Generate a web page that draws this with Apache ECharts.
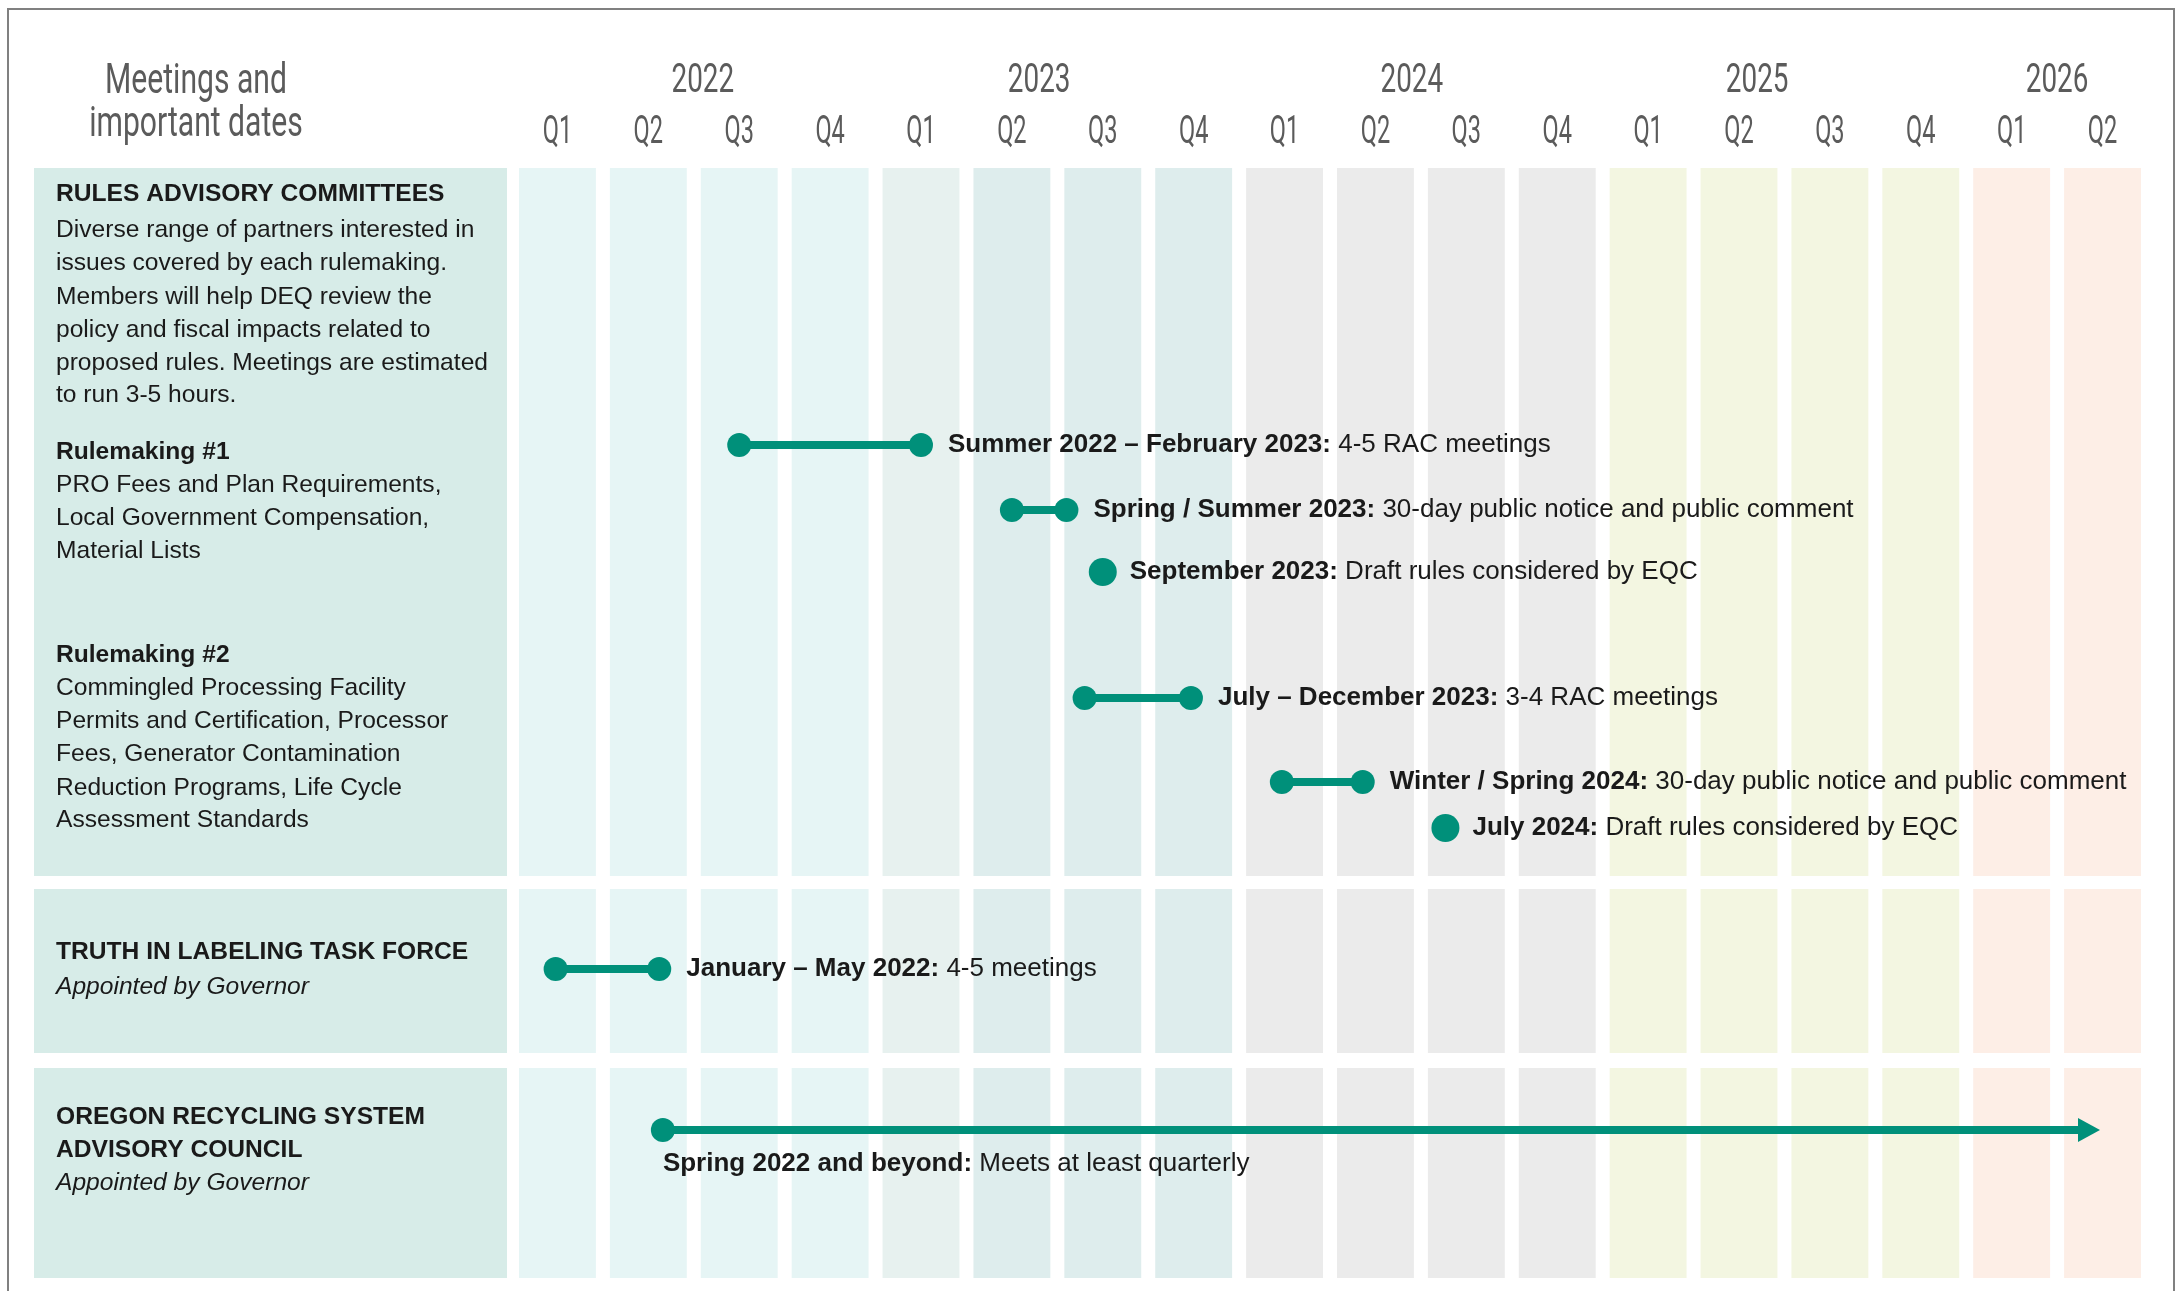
<!DOCTYPE html>
<html lang="en">
<head>
<meta charset="UTF-8">
<title>Meetings and important dates</title>
<style>
  html, body { margin: 0; padding: 0; background: #fff; }
  #main { width: 2177px; height: 1291px; }
</style>
<script src="https://cdn.jsdelivr.net/npm/echarts@6/dist/echarts.min.js"></script>
</head>
<body>
<div id="main"></div>
<script>
// time axis: quarters from 2022 Q1 to 2026 Q2
var quarters = ['Q1', 'Q2', 'Q3', 'Q4', 'Q1', 'Q2', 'Q3', 'Q4', 'Q1', 'Q2', 'Q3', 'Q4',
                'Q1', 'Q2', 'Q3', 'Q4', 'Q1', 'Q2'];
var yearTicks = [2.1, 5.8, 9.9, 13.7, 17];
var yearNames = ['2022', '2023', '2024', '2025', '2026'];

// the three groups (rows), in layout units down the chart
var rowTop = [0, 721, 900];
var rowBottom = [708, 885, 1110];

// events, x in quarters counted from Jan 2022
var eventStart = [2.5, 5.5, 6.5, 6.3, 8.47, 10.27, 0.48, 1.66];
var eventEnd = [4.5, 6.1, 6.5, 7.47, 9.36, 10.27, 1.62, 17.45];
var eventRow = [277, 342, 404, 530, 614, 660, 801, 962];
var eventOngoing = [false, false, false, false, false, false, false, true];
var eventTitle = [
  'Summer 2022 – February 2023:',
  'Spring / Summer 2023:',
  'September 2023:',
  'July – December 2023:',
  'Winter / Spring 2024:',
  'July 2024:',
  'January – May 2022:',
  'Spring 2022 and beyond:'
];
var eventNote = [
  '4-5 RAC meetings',
  '30-day public notice and public comment',
  'Draft rules considered by EQC',
  '3-4 RAC meetings',
  '30-day public notice and public comment',
  'Draft rules considered by EQC',
  '4-5 meetings',
  'Meets at least quarterly'
];

// left hand descriptions
var panelRow = [26, 62, 95, 129, 162, 195, 227, 284, 317, 350, 383,
                487, 520, 553, 586, 620, 652, 784, 819, 949, 982, 1015];
var panelKind = ['h', 'n', 'n', 'n', 'n', 'n', 'n', 'h', 'n', 'n', 'n',
                 'h', 'n', 'n', 'n', 'n', 'n', 'h', 'i', 'h', 'h', 'i'];
var panelText = [
  'RULES ADVISORY COMMITTEES',
  'Diverse range of partners interested in',
  'issues covered by each rulemaking.',
  'Members will help DEQ review the',
  'policy and fiscal impacts related to',
  'proposed rules. Meetings are estimated',
  'to run 3-5 hours.',
  'Rulemaking #1',
  'PRO Fees and Plan Requirements,',
  'Local Government Compensation,',
  'Material Lists',
  'Rulemaking #2',
  'Commingled Processing Facility',
  'Permits and Certification, Processor',
  'Fees, Generator Contamination',
  'Reduction Programs, Life Cycle',
  'Assessment Standards',
  'TRUTH IN LABELING TASK FORCE',
  'Appointed by Governor',
  'OREGON RECYCLING SYSTEM',
  'ADVISORY COUNCIL',
  'Appointed by Governor'
];

var headFont = "Roboto, 'Noto Sans', sans-serif";
var bodyFont = "'Liberation Sans', Arial, sans-serif";
var grey = '#5b5b5b';
var teal = '#00907a';
var ink = '#1a1a1a';
var quarterFill = ['#e6f5f5', '#e6f5f5', '#e6f5f5', '#e6f5f5',
                   '#e7f1ef', '#deeded', '#deeded', '#deeded',
                   '#ebebeb', '#ebebeb', '#ebebeb', '#ebebeb',
                   '#f3f6e1', '#f3f6e1', '#f3f6e1', '#f3f6e1',
                   '#fdeee6', '#fdeee6'];

var columnData = [];
for (var q = 0; q < quarters.length; q++) {
  for (var r = 0; r < rowTop.length; r++) {
    columnData.push([q, rowTop[r], rowBottom[r]]);
  }
}
var quarterData = quarters.map(function (s, i) { return [i + 0.5, 0]; });
var yearData = yearTicks.map(function (v) { return [v, 0]; });
var panelData = rowTop.map(function (t, i) { return [0, 1, t, rowBottom[i]]; });
var panelTextData = panelRow.map(function (y) { return [0, y]; });
var eventData = eventStart.map(function (s, i) { return [s, eventEnd[i], eventRow[i]]; });

// condensed header lettering: squeeze a regular face horizontally
function headerLabel(names, lift, size, squeeze) {
  return function (params, api) {
    var p = api.coord([api.value(0), api.value(1)]);
    return {
      type: 'text',
      x: p[0],
      y: p[1] - lift,
      scaleX: squeeze,
      style: {
        text: names[params.dataIndex],
        font: size + 'px ' + headFont,
        fill: grey,
        textAlign: 'center',
        textVerticalAlign: 'middle'
      }
    };
  };
}

var chart = echarts.init(document.getElementById('main'));

var option = {
  animation: false,
  backgroundColor: '#ffffff',
  graphic: [
    {
      type: 'rect',
      shape: { x: 8, y: 9, width: 2166, height: 1400 },
      style: { fill: 'none', stroke: '#808080', lineWidth: 2 },
      silent: true
    },
    {
      type: 'text',
      x: 196,
      y: 104,
      scaleX: 0.7,
      style: {
        text: 'Meetings and\nimportant dates',
        textAlign: 'center',
        textVerticalAlign: 'middle',
        font: '43px ' + headFont,
        lineHeight: 43,
        fill: grey
      }
    }
  ],
  grid: [
    { left: 512, right: 29, top: 168, bottom: 13 },
    { left: 34, width: 473, top: 168, bottom: 13 }
  ],
  xAxis: [
    { type: 'value', gridIndex: 0, min: 0, max: 18, show: false },
    { type: 'value', gridIndex: 1, min: 0, max: 1, show: false }
  ],
  yAxis: [
    { type: 'value', gridIndex: 0, inverse: true, min: 0, max: 1110, show: false },
    { type: 'value', gridIndex: 1, inverse: true, min: 0, max: 1110, show: false }
  ],
  series: [
    {
      // quarter columns
      type: 'custom',
      xAxisIndex: 0,
      yAxisIndex: 0,
      silent: true,
      data: columnData,
      encode: { x: 0, y: [1, 2] },
      renderItem: function (params, api) {
        var q = api.value(0);
        var p0 = api.coord([q + 0.077, api.value(1)]);
        var p1 = api.coord([q + 0.923, api.value(2)]);
        return {
          type: 'rect',
          shape: { x: p0[0], y: p0[1], width: p1[0] - p0[0], height: p1[1] - p0[1] },
          style: { fill: quarterFill[q] }
        };
      }
    },
    {
      // quarter tick labels
      type: 'custom',
      xAxisIndex: 0,
      yAxisIndex: 0,
      silent: true,
      data: quarterData,
      encode: { x: 0, y: 1 },
      renderItem: headerLabel(quarters, 35, 38, 0.62)
    },
    {
      // year labels
      type: 'custom',
      xAxisIndex: 0,
      yAxisIndex: 0,
      silent: true,
      data: yearData,
      encode: { x: 0, y: 1 },
      renderItem: headerLabel(yearNames, 86, 41, 0.68)
    },
    {
      // left panel boxes
      type: 'custom',
      xAxisIndex: 1,
      yAxisIndex: 1,
      silent: true,
      data: panelData,
      encode: { x: [0, 1], y: [2, 3] },
      renderItem: function (params, api) {
        var p0 = api.coord([api.value(0), api.value(2)]);
        var p1 = api.coord([api.value(1), api.value(3)]);
        return {
          type: 'rect',
          shape: { x: p0[0], y: p0[1], width: p1[0] - p0[0], height: p1[1] - p0[1] },
          style: { fill: '#d7ece8' }
        };
      }
    },
    {
      // left panel text
      type: 'custom',
      xAxisIndex: 1,
      yAxisIndex: 1,
      silent: true,
      data: panelTextData,
      encode: { x: 0, y: 1 },
      renderItem: function (params, api) {
        var i = params.dataIndex;
        var p = api.coord([api.value(0), api.value(1)]);
        var kind = panelKind[i];
        var font = (kind === 'h' ? 'bold ' : kind === 'i' ? 'italic ' : '') + '24.6px ' + bodyFont;
        return {
          type: 'text',
          x: p[0] + 22,
          y: p[1],
          style: {
            text: panelText[i],
            font: font,
            fill: ink,
            textAlign: 'left',
            textVerticalAlign: 'middle'
          }
        };
      }
    },
    {
      // events
      type: 'custom',
      xAxisIndex: 0,
      yAxisIndex: 0,
      silent: true,
      data: eventData,
      encode: { x: [0, 1], y: 2 },
      renderItem: function (params, api) {
        var i = params.dataIndex;
        var a = api.coord([api.value(0), api.value(2)]);
        var b = api.coord([api.value(1), api.value(2)]);
        var y = a[1];
        var kids = [];
        var single = b[0] - a[0] < 1;
        var labelX, labelY = y;
        if (eventOngoing[i]) {
          kids.push({ type: 'line', shape: { x1: a[0], y1: y, x2: b[0] - 16, y2: y },
                      style: { stroke: teal, lineWidth: 8 } });
          kids.push({ type: 'polygon',
                      shape: { points: [[b[0] - 20, y - 12], [b[0] + 2, y], [b[0] - 20, y + 12]] },
                      style: { fill: teal } });
          kids.push({ type: 'circle', shape: { cx: a[0], cy: y, r: 12 }, style: { fill: teal } });
          labelX = a[0];
          labelY = y + 34;
        } else if (single) {
          kids.push({ type: 'circle', shape: { cx: a[0], cy: y, r: 14 }, style: { fill: teal } });
          labelX = a[0] + 27;
        } else {
          kids.push({ type: 'line', shape: { x1: a[0], y1: y, x2: b[0], y2: y },
                      style: { stroke: teal, lineWidth: 8 } });
          kids.push({ type: 'circle', shape: { cx: a[0], cy: y, r: 12 }, style: { fill: teal } });
          kids.push({ type: 'circle', shape: { cx: b[0], cy: y, r: 12 }, style: { fill: teal } });
          labelX = b[0] + 27;
        }
        kids.push({
          type: 'text',
          x: labelX,
          y: labelY,
          style: {
            text: '{b|' + eventTitle[i] + '}{n| ' + eventNote[i] + '}',
            textAlign: 'left',
            textVerticalAlign: 'middle',
            rich: {
              b: { fontWeight: 'bold', fontSize: 26, fontFamily: bodyFont, fill: ink },
              n: { fontSize: 26, fontFamily: bodyFont, fill: ink }
            }
          }
        });
        return { type: 'group', children: kids };
      }
    }
  ]
};

chart.setOption(option);
</script>
</body>
</html>
